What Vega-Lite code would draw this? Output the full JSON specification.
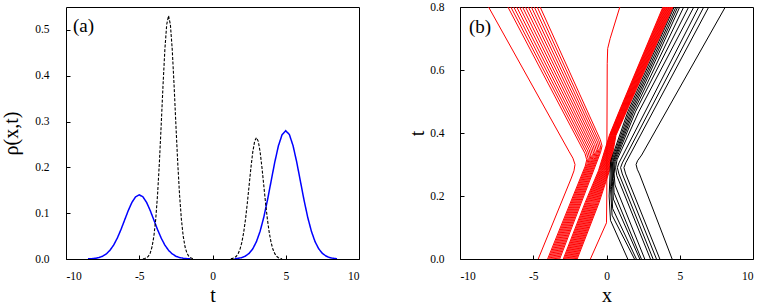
{
"$schema": "https://vega.github.io/schema/vega-lite/v6.json",
"background": "white",
"padding": {"left": 1, "top": 0, "right": 0, "bottom": 0},
"config": {
  "font": "Liberation Serif, Times New Roman, serif",
  "view": {"stroke": "black", "strokeWidth": 1},
  "concat": {"spacing": 47},
  "text": {"font": "Liberation Serif, Times New Roman, serif"},
  "axis": {"domain": false, "grid": false, "ticks": true, "tickColor": "black", "tickSize": -4, "labelColor": "black", "labelFont": "Liberation Serif, Times New Roman, serif", "labelFontSize": 11.5, "titleFont": "Liberation Serif, Times New Roman, serif", "titleFontSize": 20, "titleFontWeight": "normal", "titleColor": "black"}
},
"resolve": {"scale": {"x": "independent", "y": "independent", "color": "independent", "strokeDash": "independent", "strokeWidth": "independent"}},
"datasets": {
  "rho": [
    {"s":"bL","k":"blue","x":-8.5,"y":0.0003},{"s":"bL","k":"blue","x":-8.25,"y":0.0007},{"s":"bL","k":"blue","x":-8.0,"y":0.0016},{"s":"bL","k":"blue","x":-7.75,"y":0.0032},{"s":"bL","k":"blue","x":-7.5,"y":0.0061},{"s":"bL","k":"blue","x":-7.25,"y":0.0111},{"s":"bL","k":"blue","x":-7.0,"y":0.0189},{"s":"bL","k":"blue","x":-6.75,"y":0.0303},{"s":"bL","k":"blue","x":-6.5,"y":0.0455},{"s":"bL","k":"blue","x":-6.25,"y":0.0641},{"s":"bL","k":"blue","x":-6.0,"y":0.0849},{"s":"bL","k":"blue","x":-5.75,"y":0.1057},{"s":"bL","k":"blue","x":-5.5,"y":0.1236},{"s":"bL","k":"blue","x":-5.25,"y":0.1357},{"s":"bL","k":"blue","x":-5.0,"y":0.14},{"s":"bL","k":"blue","x":-4.75,"y":0.1357},{"s":"bL","k":"blue","x":-4.5,"y":0.1236},{"s":"bL","k":"blue","x":-4.25,"y":0.1057},{"s":"bL","k":"blue","x":-4.0,"y":0.0849},{"s":"bL","k":"blue","x":-3.75,"y":0.0641},{"s":"bL","k":"blue","x":-3.5,"y":0.0455},{"s":"bL","k":"blue","x":-3.25,"y":0.0303},{"s":"bL","k":"blue","x":-3.0,"y":0.0189},{"s":"bL","k":"blue","x":-2.75,"y":0.0111},{"s":"bL","k":"blue","x":-2.5,"y":0.0061},{"s":"bL","k":"blue","x":-2.25,"y":0.0032},{"s":"bL","k":"blue","x":-2.0,"y":0.0016},{"s":"bL","k":"blue","x":-1.75,"y":0.0007},{"s":"bL","k":"blue","x":-1.5,"y":0.0003},
    {"s":"bR","k":"blue","x":1.5,"y":0.0006},{"s":"bR","k":"blue","x":1.75,"y":0.0014},{"s":"bR","k":"blue","x":2.0,"y":0.0031},{"s":"bR","k":"blue","x":2.25,"y":0.0064},{"s":"bR","k":"blue","x":2.5,"y":0.0123},{"s":"bR","k":"blue","x":2.75,"y":0.0223},{"s":"bR","k":"blue","x":3.0,"y":0.0379},{"s":"bR","k":"blue","x":3.25,"y":0.0606},{"s":"bR","k":"blue","x":3.5,"y":0.0909},{"s":"bR","k":"blue","x":3.75,"y":0.1282},{"s":"bR","k":"blue","x":4.0,"y":0.1698},{"s":"bR","k":"blue","x":4.25,"y":0.2113},{"s":"bR","k":"blue","x":4.5,"y":0.2471},{"s":"bR","k":"blue","x":4.75,"y":0.2714},{"s":"bR","k":"blue","x":5.0,"y":0.28},{"s":"bR","k":"blue","x":5.25,"y":0.2714},{"s":"bR","k":"blue","x":5.5,"y":0.2471},{"s":"bR","k":"blue","x":5.75,"y":0.2113},{"s":"bR","k":"blue","x":6.0,"y":0.1698},{"s":"bR","k":"blue","x":6.25,"y":0.1282},{"s":"bR","k":"blue","x":6.5,"y":0.0909},{"s":"bR","k":"blue","x":6.75,"y":0.0606},{"s":"bR","k":"blue","x":7.0,"y":0.0379},{"s":"bR","k":"blue","x":7.25,"y":0.0223},{"s":"bR","k":"blue","x":7.5,"y":0.0123},{"s":"bR","k":"blue","x":7.75,"y":0.0064},{"s":"bR","k":"blue","x":8.0,"y":0.0031},{"s":"bR","k":"blue","x":8.25,"y":0.0014},{"s":"bR","k":"blue","x":8.5,"y":0.0006},
    {"s":"kL","k":"black","x":-4.75,"y":0.0004},{"s":"kL","k":"black","x":-4.625,"y":0.0011},{"s":"kL","k":"black","x":-4.5,"y":0.0026},{"s":"kL","k":"black","x":-4.375,"y":0.0061},{"s":"kL","k":"black","x":-4.25,"y":0.0132},{"s":"kL","k":"black","x":-4.125,"y":0.0267},{"s":"kL","k":"black","x":-4.0,"y":0.05},{"s":"kL","k":"black","x":-3.875,"y":0.087},{"s":"kL","k":"black","x":-3.75,"y":0.1406},{"s":"kL","k":"black","x":-3.625,"y":0.211},{"s":"kL","k":"black","x":-3.5,"y":0.2941},{"s":"kL","k":"black","x":-3.375,"y":0.3809},{"s":"kL","k":"black","x":-3.25,"y":0.4581},{"s":"kL","k":"black","x":-3.125,"y":0.5118},{"s":"kL","k":"black","x":-3.0,"y":0.531},{"s":"kL","k":"black","x":-2.875,"y":0.5118},{"s":"kL","k":"black","x":-2.75,"y":0.4581},{"s":"kL","k":"black","x":-2.625,"y":0.3809},{"s":"kL","k":"black","x":-2.5,"y":0.2941},{"s":"kL","k":"black","x":-2.375,"y":0.211},{"s":"kL","k":"black","x":-2.25,"y":0.1406},{"s":"kL","k":"black","x":-2.125,"y":0.087},{"s":"kL","k":"black","x":-2.0,"y":0.05},{"s":"kL","k":"black","x":-1.875,"y":0.0267},{"s":"kL","k":"black","x":-1.75,"y":0.0132},{"s":"kL","k":"black","x":-1.625,"y":0.0061},{"s":"kL","k":"black","x":-1.5,"y":0.0026},{"s":"kL","k":"black","x":-1.375,"y":0.0011},{"s":"kL","k":"black","x":-1.25,"y":0.0004},
    {"s":"kR","k":"black","x":1.25,"y":0.0006},{"s":"kR","k":"black","x":1.375,"y":0.0014},{"s":"kR","k":"black","x":1.5,"y":0.0029},{"s":"kR","k":"black","x":1.625,"y":0.006},{"s":"kR","k":"black","x":1.75,"y":0.0116},{"s":"kR","k":"black","x":1.875,"y":0.0211},{"s":"kR","k":"black","x":2.0,"y":0.0359},{"s":"kR","k":"black","x":2.125,"y":0.0573},{"s":"kR","k":"black","x":2.25,"y":0.086},{"s":"kR","k":"black","x":2.375,"y":0.1213},{"s":"kR","k":"black","x":2.5,"y":0.1607},{"s":"kR","k":"black","x":2.625,"y":0.2},{"s":"kR","k":"black","x":2.75,"y":0.2339},{"s":"kR","k":"black","x":2.875,"y":0.2568},{"s":"kR","k":"black","x":3.0,"y":0.265},{"s":"kR","k":"black","x":3.125,"y":0.2568},{"s":"kR","k":"black","x":3.25,"y":0.2339},{"s":"kR","k":"black","x":3.375,"y":0.2},{"s":"kR","k":"black","x":3.5,"y":0.1607},{"s":"kR","k":"black","x":3.625,"y":0.1213},{"s":"kR","k":"black","x":3.75,"y":0.086},{"s":"kR","k":"black","x":3.875,"y":0.0573},{"s":"kR","k":"black","x":4.0,"y":0.0359},{"s":"kR","k":"black","x":4.125,"y":0.0211},{"s":"kR","k":"black","x":4.25,"y":0.0116},{"s":"kR","k":"black","x":4.375,"y":0.006},{"s":"kR","k":"black","x":4.5,"y":0.0029},{"s":"kR","k":"black","x":4.625,"y":0.0014},{"s":"kR","k":"black","x":4.75,"y":0.0006}
  ],
  "traj": [
    {"id":"r0","k":"red","x":-4.66,"t":0},{"id":"r0","k":"red","x":-2.40,"t":0.257},{"id":"r0","k":"red","x":-2.22,"t":0.28},{"id":"r0","k":"red","x":-2.15,"t":0.3},{"id":"r0","k":"red","x":-2.29,"t":0.32},{"id":"r0","k":"red","x":-2.54,"t":0.34},{"id":"r0","k":"red","x":-8.05,"t":0.8},
    {"id":"g0","k":"red","x":-4.02,"t":0},{"id":"g0","k":"red","x":-1.45,"t":0.295},{"id":"g0","k":"red","x":-1.35,"t":0.315},{"id":"g0","k":"red","x":-1.47,"t":0.335},{"id":"g0","k":"red","x":-6.73,"t":0.8},
    {"id":"g1","k":"red","x":-3.945,"t":0},{"id":"g1","k":"red","x":-1.355,"t":0.299},{"id":"g1","k":"red","x":-1.255,"t":0.319},{"id":"g1","k":"red","x":-1.375,"t":0.339},{"id":"g1","k":"red","x":-6.53,"t":0.8},
    {"id":"g2","k":"red","x":-3.87,"t":0},{"id":"g2","k":"red","x":-1.26,"t":0.303},{"id":"g2","k":"red","x":-1.16,"t":0.323},{"id":"g2","k":"red","x":-1.28,"t":0.343},{"id":"g2","k":"red","x":-6.33,"t":0.8},
    {"id":"g3","k":"red","x":-3.795,"t":0},{"id":"g3","k":"red","x":-1.165,"t":0.307},{"id":"g3","k":"red","x":-1.065,"t":0.327},{"id":"g3","k":"red","x":-1.185,"t":0.347},{"id":"g3","k":"red","x":-6.13,"t":0.8},
    {"id":"g4","k":"red","x":-3.72,"t":0},{"id":"g4","k":"red","x":-1.07,"t":0.311},{"id":"g4","k":"red","x":-0.97,"t":0.331},{"id":"g4","k":"red","x":-1.09,"t":0.351},{"id":"g4","k":"red","x":-5.93,"t":0.8},
    {"id":"g5","k":"red","x":-3.645,"t":0},{"id":"g5","k":"red","x":-0.975,"t":0.315},{"id":"g5","k":"red","x":-0.875,"t":0.335},{"id":"g5","k":"red","x":-0.995,"t":0.355},{"id":"g5","k":"red","x":-5.73,"t":0.8},
    {"id":"g6","k":"red","x":-3.57,"t":0},{"id":"g6","k":"red","x":-0.88,"t":0.319},{"id":"g6","k":"red","x":-0.78,"t":0.339},{"id":"g6","k":"red","x":-0.90,"t":0.359},{"id":"g6","k":"red","x":-5.53,"t":0.8},
    {"id":"g7","k":"red","x":-3.495,"t":0},{"id":"g7","k":"red","x":-0.785,"t":0.323},{"id":"g7","k":"red","x":-0.685,"t":0.343},{"id":"g7","k":"red","x":-0.805,"t":0.363},{"id":"g7","k":"red","x":-5.33,"t":0.8},
    {"id":"g8","k":"red","x":-3.42,"t":0},{"id":"g8","k":"red","x":-0.69,"t":0.327},{"id":"g8","k":"red","x":-0.59,"t":0.347},{"id":"g8","k":"red","x":-0.71,"t":0.367},{"id":"g8","k":"red","x":-5.13,"t":0.8},
    {"id":"g9","k":"red","x":-3.345,"t":0},{"id":"g9","k":"red","x":-0.595,"t":0.331},{"id":"g9","k":"red","x":-0.495,"t":0.351},{"id":"g9","k":"red","x":-0.615,"t":0.371},{"id":"g9","k":"red","x":-4.93,"t":0.8},
    {"id":"g10","k":"red","x":-3.27,"t":0},{"id":"g10","k":"red","x":-0.50,"t":0.335},{"id":"g10","k":"red","x":-0.40,"t":0.355},{"id":"g10","k":"red","x":-0.52,"t":0.375},{"id":"g10","k":"red","x":-4.73,"t":0.8},
    {"id":"g11","k":"red","x":-3.195,"t":0},{"id":"g11","k":"red","x":-0.405,"t":0.339},{"id":"g11","k":"red","x":-0.305,"t":0.359},{"id":"g11","k":"red","x":-0.425,"t":0.379},{"id":"g11","k":"red","x":-4.53,"t":0.8},
    {"id":"j0","k":"red","x":-2.95,"t":0},{"id":"j0","k":"red","x":-1.45,"t":0.18},{"id":"j0","k":"red","x":-0.55,"t":0.28},{"id":"j0","k":"red","x":0.2,"t":0.393},{"id":"j0","k":"red","x":0.85,"t":0.467},{"id":"j0","k":"red","x":3.85,"t":0.8},
    {"id":"j1","k":"red","x":-2.887,"t":0},{"id":"j1","k":"red","x":-1.387,"t":0.18},{"id":"j1","k":"red","x":-0.5,"t":0.28},{"id":"j1","k":"red","x":0.23,"t":0.393},{"id":"j1","k":"red","x":0.883,"t":0.467},{"id":"j1","k":"red","x":3.897,"t":0.8},
    {"id":"j2","k":"red","x":-2.823,"t":0},{"id":"j2","k":"red","x":-1.323,"t":0.18},{"id":"j2","k":"red","x":-0.45,"t":0.28},{"id":"j2","k":"red","x":0.26,"t":0.393},{"id":"j2","k":"red","x":0.917,"t":0.467},{"id":"j2","k":"red","x":3.943,"t":0.8},
    {"id":"j3","k":"red","x":-2.76,"t":0},{"id":"j3","k":"red","x":-1.26,"t":0.18},{"id":"j3","k":"red","x":-0.4,"t":0.28},{"id":"j3","k":"red","x":0.29,"t":0.393},{"id":"j3","k":"red","x":0.95,"t":0.467},{"id":"j3","k":"red","x":3.99,"t":0.8},
    {"id":"j4","k":"red","x":-2.697,"t":0},{"id":"j4","k":"red","x":-1.197,"t":0.18},{"id":"j4","k":"red","x":-0.35,"t":0.28},{"id":"j4","k":"red","x":0.32,"t":0.393},{"id":"j4","k":"red","x":0.983,"t":0.467},{"id":"j4","k":"red","x":4.037,"t":0.8},
    {"id":"j5","k":"red","x":-2.633,"t":0},{"id":"j5","k":"red","x":-1.133,"t":0.18},{"id":"j5","k":"red","x":-0.3,"t":0.28},{"id":"j5","k":"red","x":0.35,"t":0.393},{"id":"j5","k":"red","x":1.017,"t":0.467},{"id":"j5","k":"red","x":4.083,"t":0.8},
    {"id":"j6","k":"red","x":-2.57,"t":0},{"id":"j6","k":"red","x":-1.07,"t":0.18},{"id":"j6","k":"red","x":-0.25,"t":0.28},{"id":"j6","k":"red","x":0.38,"t":0.393},{"id":"j6","k":"red","x":1.05,"t":0.467},{"id":"j6","k":"red","x":4.13,"t":0.8},
    {"id":"j7","k":"red","x":-2.507,"t":0},{"id":"j7","k":"red","x":-1.007,"t":0.18},{"id":"j7","k":"red","x":-0.2,"t":0.28},{"id":"j7","k":"red","x":0.41,"t":0.393},{"id":"j7","k":"red","x":1.083,"t":0.467},{"id":"j7","k":"red","x":4.177,"t":0.8},
    {"id":"j8","k":"red","x":-2.443,"t":0},{"id":"j8","k":"red","x":-0.943,"t":0.18},{"id":"j8","k":"red","x":-0.15,"t":0.28},{"id":"j8","k":"red","x":0.44,"t":0.393},{"id":"j8","k":"red","x":1.117,"t":0.467},{"id":"j8","k":"red","x":4.223,"t":0.8},
    {"id":"j9","k":"red","x":-2.38,"t":0},{"id":"j9","k":"red","x":-0.88,"t":0.18},{"id":"j9","k":"red","x":-0.1,"t":0.28},{"id":"j9","k":"red","x":0.47,"t":0.393},{"id":"j9","k":"red","x":1.15,"t":0.467},{"id":"j9","k":"red","x":4.27,"t":0.8},
    {"id":"j10","k":"red","x":-2.317,"t":0},{"id":"j10","k":"red","x":-0.817,"t":0.18},{"id":"j10","k":"red","x":-0.05,"t":0.28},{"id":"j10","k":"red","x":0.5,"t":0.393},{"id":"j10","k":"red","x":1.183,"t":0.467},{"id":"j10","k":"red","x":4.317,"t":0.8},
    {"id":"j11","k":"red","x":-2.253,"t":0},{"id":"j11","k":"red","x":-0.753,"t":0.18},{"id":"j11","k":"red","x":0.0,"t":0.28},{"id":"j11","k":"red","x":0.53,"t":0.393},{"id":"j11","k":"red","x":1.217,"t":0.467},{"id":"j11","k":"red","x":4.363,"t":0.8},
    {"id":"j12","k":"red","x":-2.19,"t":0},{"id":"j12","k":"red","x":-0.69,"t":0.18},{"id":"j12","k":"red","x":0.05,"t":0.28},{"id":"j12","k":"red","x":0.56,"t":0.393},{"id":"j12","k":"red","x":1.25,"t":0.467},{"id":"j12","k":"red","x":4.41,"t":0.8},
    {"id":"j13","k":"red","x":-2.127,"t":0},{"id":"j13","k":"red","x":-0.627,"t":0.18},{"id":"j13","k":"red","x":0.1,"t":0.28},{"id":"j13","k":"red","x":0.59,"t":0.393},{"id":"j13","k":"red","x":1.283,"t":0.467},{"id":"j13","k":"red","x":4.457,"t":0.8},
    {"id":"j14","k":"red","x":-2.063,"t":0},{"id":"j14","k":"red","x":-0.563,"t":0.18},{"id":"j14","k":"red","x":0.15,"t":0.28},{"id":"j14","k":"red","x":0.62,"t":0.393},{"id":"j14","k":"red","x":1.317,"t":0.467},{"id":"j14","k":"red","x":4.503,"t":0.8},
    {"id":"j15","k":"red","x":-2.0,"t":0},{"id":"j15","k":"red","x":-0.5,"t":0.18},{"id":"j15","k":"red","x":0.2,"t":0.28},{"id":"j15","k":"red","x":0.65,"t":0.393},{"id":"j15","k":"red","x":1.35,"t":0.467},{"id":"j15","k":"red","x":4.55,"t":0.8},
    {"id":"rv","k":"red","x":-1.1,"t":0},{"id":"rv","k":"red","x":0.0,"t":0.115},{"id":"rv","k":"red","x":0.02,"t":0.2},{"id":"rv","k":"red","x":0.03,"t":0.4},{"id":"rv","k":"red","x":0.05,"t":0.62},{"id":"rv","k":"red","x":0.08,"t":0.668},{"id":"rv","k":"red","x":0.25,"t":0.7},{"id":"rv","k":"red","x":0.91,"t":0.8},
    {"id":"L0","k":"black","x":1.45,"t":0},{"id":"L0","k":"black","x":0.27,"t":0.123},{"id":"L0","k":"black","x":0.18,"t":0.2},{"id":"L0","k":"black","x":0.28,"t":0.31},{"id":"L0","k":"black","x":1.45,"t":0.467},{"id":"L0","k":"black","x":4.62,"t":0.8},
    {"id":"L1","k":"black","x":1.91,"t":0},{"id":"L1","k":"black","x":0.38,"t":0.139},{"id":"L1","k":"black","x":0.28,"t":0.22},{"id":"L1","k":"black","x":0.35,"t":0.31},{"id":"L1","k":"black","x":1.55,"t":0.467},{"id":"L1","k":"black","x":4.74,"t":0.8},
    {"id":"L2","k":"black","x":2.04,"t":0},{"id":"L2","k":"black","x":0.42,"t":0.16},{"id":"L2","k":"black","x":0.34,"t":0.23},{"id":"L2","k":"black","x":0.42,"t":0.31},{"id":"L2","k":"black","x":1.65,"t":0.467},{"id":"L2","k":"black","x":4.86,"t":0.8},
    {"id":"L3","k":"black","x":2.27,"t":0},{"id":"L3","k":"black","x":0.47,"t":0.19},{"id":"L3","k":"black","x":0.40,"t":0.245},{"id":"L3","k":"black","x":0.47,"t":0.31},{"id":"L3","k":"black","x":1.75,"t":0.467},{"id":"L3","k":"black","x":5.0,"t":0.8},
    {"id":"L4","k":"black","x":2.38,"t":0},{"id":"L4","k":"black","x":0.52,"t":0.21},{"id":"L4","k":"black","x":0.46,"t":0.255},{"id":"L4","k":"black","x":0.53,"t":0.31},{"id":"L4","k":"black","x":1.85,"t":0.467},{"id":"L4","k":"black","x":5.27,"t":0.8},
    {"id":"L5","k":"black","x":2.61,"t":0},{"id":"L5","k":"black","x":0.58,"t":0.235},{"id":"L5","k":"black","x":0.52,"t":0.27},{"id":"L5","k":"black","x":0.6,"t":0.31},{"id":"L5","k":"black","x":1.97,"t":0.467},{"id":"L5","k":"black","x":5.61,"t":0.8},
    {"id":"L6","k":"black","x":3.0,"t":0},{"id":"L6","k":"black","x":0.7,"t":0.265},{"id":"L6","k":"black","x":0.62,"t":0.29},{"id":"L6","k":"black","x":0.72,"t":0.315},{"id":"L6","k":"black","x":2.2,"t":0.467},{"id":"L6","k":"black","x":5.96,"t":0.8},
    {"id":"L7","k":"black","x":3.18,"t":0},{"id":"L7","k":"black","x":0.85,"t":0.27},{"id":"L7","k":"black","x":0.74,"t":0.29},{"id":"L7","k":"black","x":0.85,"t":0.305},{"id":"L7","k":"black","x":6.30,"t":0.8},
    {"id":"L8","k":"black","x":3.41,"t":0},{"id":"L8","k":"black","x":1.08,"t":0.27},{"id":"L8","k":"black","x":0.96,"t":0.29},{"id":"L8","k":"black","x":1.08,"t":0.305},{"id":"L8","k":"black","x":6.64,"t":0.8},
    {"id":"L9","k":"black","x":3.64,"t":0},{"id":"L9","k":"black","x":1.31,"t":0.27},{"id":"L9","k":"black","x":1.19,"t":0.29},{"id":"L9","k":"black","x":1.31,"t":0.305},{"id":"L9","k":"black","x":6.98,"t":0.8},
    {"id":"L10","k":"black","x":4.48,"t":0},{"id":"L10","k":"black","x":2.25,"t":0.27},{"id":"L10","k":"black","x":2.1,"t":0.285},{"id":"L10","k":"black","x":2.02,"t":0.3},{"id":"L10","k":"black","x":2.12,"t":0.312},{"id":"L10","k":"black","x":2.4,"t":0.33},{"id":"L10","k":"black","x":8.11,"t":0.8}
  ]
},
"hconcat": [
  {
    "width": 293, "height": 252,
    "layer": [
      {
        "data": {"name": "rho"},
        "mark": {"type": "line", "clip": true},
        "encoding": {
          "x": {"field": "x", "type": "quantitative", "scale": {"domain": [-10, 10], "nice": false},
                "axis": {"title": "t", "values": [-10, -7.5, -5, -2.5, 0, 2.5, 5, 7.5, 10], "labelExpr": "datum.value % 5 === 0 ? toString(datum.value) : ''", "labelPadding": 15, "titlePadding": 4}},
          "y": {"field": "y", "type": "quantitative", "scale": {"domain": [0, 0.55], "nice": false},
                "axis": {"title": "ρ(x,t)", "values": [0, 0.05, 0.1, 0.15, 0.2, 0.25, 0.3, 0.35, 0.4, 0.45, 0.5, 0.55], "labelExpr": "round(datum.value*100) % 10 === 0 ? format(datum.value, '.1f') : ''", "labelPadding": 21, "titlePadding": 13}},
          "detail": {"field": "s"},
          "color": {"field": "k", "type": "nominal", "scale": {"domain": ["blue", "black"], "range": ["#0000ff", "#000000"]}, "legend": null},
          "strokeDash": {"field": "k", "type": "nominal", "scale": {"domain": ["blue", "black"], "range": [[1, 0], [3, 1.6]]}, "legend": null},
          "strokeWidth": {"field": "k", "type": "nominal", "scale": {"domain": ["blue", "black"], "range": [1.5, 1.1]}, "legend": null}
        }
      },
      {
        "data": {"values": [{"lab": "(a)", "x": -9.52, "y": 0.508}]},
        "mark": {"type": "text", "align": "left", "baseline": "middle", "fontSize": 19, "font": "Liberation Serif, Times New Roman, serif", "color": "black"},
        "encoding": {
          "x": {"field": "x", "type": "quantitative"},
          "y": {"field": "y", "type": "quantitative"},
          "text": {"field": "lab"}
        }
      }
    ]
  },
  {
    "width": 293, "height": 252,
    "layer": [
      {
        "data": {"name": "traj"},
        "mark": {"type": "line", "strokeWidth": 1, "clip": true},
        "encoding": {
          "x": {"field": "x", "type": "quantitative", "scale": {"domain": [-10, 10], "nice": false},
                "axis": {"title": "x", "values": [-10, -7.5, -5, -2.5, 0, 2.5, 5, 7.5, 10], "labelExpr": "datum.value % 5 === 0 ? toString(datum.value) : ''", "labelPadding": 15, "titlePadding": 4}},
          "y": {"field": "t", "type": "quantitative", "scale": {"domain": [0, 0.8], "nice": false},
                "axis": {"title": "t", "values": [0, 0.1, 0.2, 0.3, 0.4, 0.5, 0.6, 0.7, 0.8], "labelExpr": "round(datum.value*10) % 2 === 0 ? format(datum.value, '.1f') : ''", "labelPadding": 20, "titlePadding": 2}},
          "detail": {"field": "id"},
          "order": {"field": "t", "type": "quantitative"},
          "color": {"field": "k", "type": "nominal", "scale": {"domain": ["red", "black"], "range": ["#ff0000", "#000000"]}, "legend": null}
        }
      },
      {
        "data": {"values": [{"lab": "(b)", "x": -9.39, "t": 0.738}]},
        "mark": {"type": "text", "align": "left", "baseline": "middle", "fontSize": 19, "font": "Liberation Serif, Times New Roman, serif", "color": "black"},
        "encoding": {
          "x": {"field": "x", "type": "quantitative"},
          "y": {"field": "t", "type": "quantitative"},
          "text": {"field": "lab"}
        }
      }
    ]
  }
]
}
